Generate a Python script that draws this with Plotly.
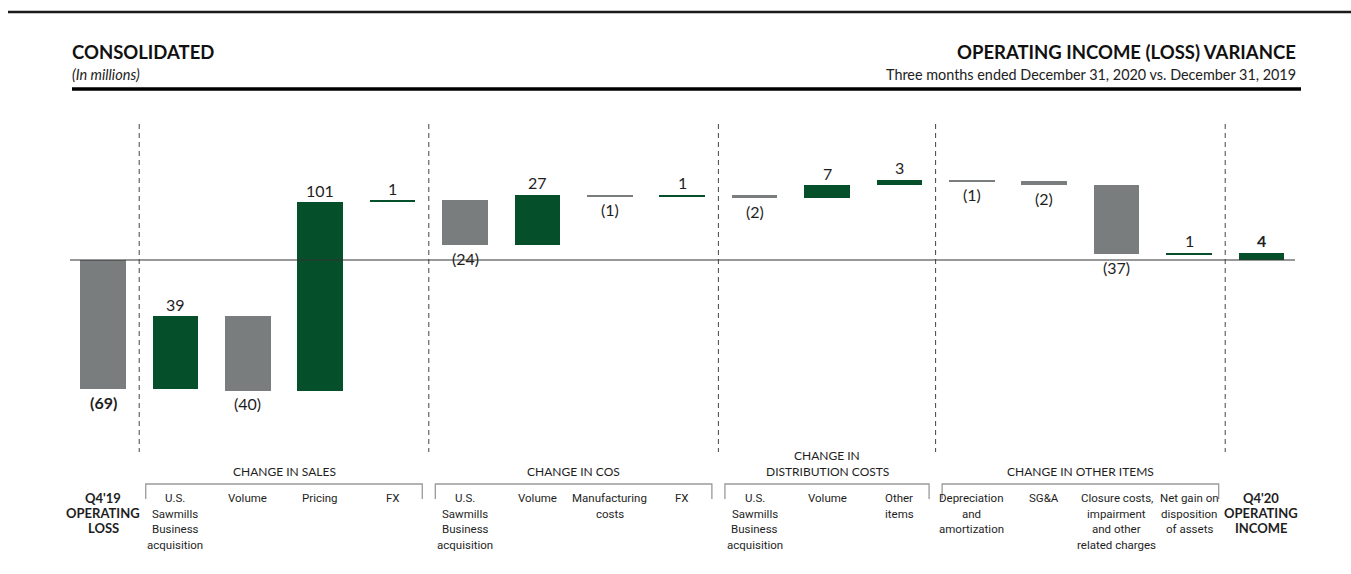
import plotly.graph_objects as go

# ---------------- data ----------------
categories = [
    "Q4'19<br>OPERATING<br>LOSS",
    "U.S.<br>Sawmills<br>Business<br>acquisition", "Volume", "Pricing", "FX",
    "U.S.<br>Sawmills<br>Business<br>acquisition", "Volume", "Manufacturing<br>costs", "FX",
    "U.S.<br>Sawmills<br>Business<br>acquisition", "Volume", "Other<br>items",
    "Depreciation<br>and<br>amortization", "SG&A",
    "Closure costs,<br>impairment<br>and other<br>related charges",
    "Net gain on<br>disposition<br>of assets",
    "Q4'20<br>OPERATING<br>INCOME",
]
values = [-69, 39, -40, 101, 1, -24, 27, -1, 1, -2, 7, 3, -1, -2, -37, 1, 4]
measures = ["total"] + ["relative"] * 15 + ["total"]
value_labels = ["(69)", "39", "(40)", "101", "1", "(24)", "27", "(1)", "1",
                "(2)", "7", "3", "(1)", "(2)", "(37)", "1", "4"]
group_names = ["CHANGE IN SALES", "CHANGE IN COS",
               "CHANGE IN<br>DISTRIBUTION COSTS", "CHANGE IN OTHER ITEMS"]
group_first = [1, 5, 9, 12]
group_last = [4, 8, 11, 15]

GREEN = "#05502a"
GRAY = "#7a7d7d"
TXT = "#1e1e1e"
W, H = 1351, 574
HEAD_FONT = "Lato, 'Noto Sans', sans-serif"
NARROW = "Roboto, 'Liberation Sans', sans-serif"

# ---------------- waterfall geometry from data ----------------
bases, heights, tops, bottoms, colors = [], [], [], [], []
cum = 0
for v, m in zip(values, measures):
    if m == "total":
        start, end = 0, v
        cum = v
    else:
        start, end = cum, cum + v
        cum = end
    bases.append(min(start, end))
    heights.append(abs(end - start))
    tops.append(max(start, end))
    bottoms.append(min(start, end))
    colors.append(GREEN if v > 0 else GRAY)

x = list(range(len(values)))

fig = go.Figure()
fig.add_trace(go.Bar(
    x=x, y=heights, base=bases, width=0.63,
    marker=dict(color=colors, line=dict(width=0)),
    hoverinfo="skip", showlegend=False,
))

# pixel helpers
X0, DX = 103.0, 72.4          # px of bar 0, px per category
PPU = 1.871                  # px per million
ZERO_PX = 260.0


def py(p):
    return 1 - p / H


annotations = []
# value labels
for i, (v, lab) in enumerate(zip(values, value_labels)):
    bold = measures[i] == "total"
    txt = f"<b>{lab}</b>" if bold else lab
    if v > 0:
        annotations.append(dict(x=i, y=tops[i], xref="x", yref="y", text=txt,
                                showarrow=False, yanchor="middle", yshift=12,
                                font=dict(family=HEAD_FONT, size=16, color=TXT)))
    else:
        annotations.append(dict(x=i, y=bottoms[i], xref="x", yref="y", text=txt,
                                showarrow=False, yanchor="middle", yshift=-13,
                                font=dict(family=HEAD_FONT, size=16, color=TXT)))

# category labels (line by line)
for i, cat in enumerate(categories):
    lines = cat.split("<br>")
    bold = measures[i] == "total"
    for k, ln in enumerate(lines):
        if bold:
            annotations.append(dict(x=i, y=py(498 + 15 * k), xref="x", yref="paper",
                                    text=f"<b>{ln}</b>", showarrow=False,
                                    yanchor="middle",
                                    font=dict(family=HEAD_FONT, size=13, color=TXT)))
        else:
            annotations.append(dict(x=i, y=py(498 + 15.7 * k), xref="x", yref="paper",
                                    text=ln, showarrow=False, yanchor="middle",
                                    font=dict(family=NARROW, size=11.5, color=TXT)))

# group headers
for name, a, b in zip(group_names, group_first, group_last):
    lines = name.split("<br>")
    n = len(lines)
    for k, ln in enumerate(lines):
        annotations.append(dict(x=(a + b) / 2, y=py(471 - 15.5 * (n - 1 - k)),
                                xref="x", yref="paper", text=ln, showarrow=False,
                                yanchor="middle",
                                font=dict(family=HEAD_FONT, size=12, color=TXT)))

# header texts
annotations += [
    dict(x=70 / W, y=py(52), xref="paper", yref="paper", xanchor="left", yanchor="middle",
         text="<b>CONSOLIDATED</b>", showarrow=False,
         font=dict(family=HEAD_FONT, size=18.5, color="#111")),
    dict(x=70 / W, y=py(74), xref="paper", yref="paper", xanchor="left", yanchor="middle",
         text="<i>(In millions)</i>", showarrow=False,
         font=dict(family=HEAD_FONT, size=14.5, color="#222")),
    dict(x=1298 / W, y=py(52), xref="paper", yref="paper", xanchor="right", yanchor="middle",
         text="<b>OPERATING INCOME (LOSS) VARIANCE</b>", showarrow=False,
         font=dict(family=HEAD_FONT, size=18.5, color="#111")),
    dict(x=1298 / W, y=py(74), xref="paper", yref="paper", xanchor="right", yanchor="middle",
         text="Three months ended December 31, 2020 vs. December 31, 2019", showarrow=False,
         font=dict(family=HEAD_FONT, size=14.4, color="#222")),
]

shapes = []
# top rules
shapes.append(dict(type="line", xref="paper", yref="paper", x0=8 / W, x1=1, y0=py(12), y1=py(12),
                   line=dict(color="#1a1a1a", width=2.5)))
shapes.append(dict(type="line", xref="paper", yref="paper", x0=72 / W, x1=1301 / W,
                   y0=py(89), y1=py(89), line=dict(color="#000", width=3.5)))
# zero line
shapes.append(dict(type="line", xref="x", yref="y", x0=(70 - X0) / DX, x1=(1295 - X0) / DX,
                   y0=0, y1=0, line=dict(color="#333", width=1.2), layer="above"))
# dashed separators
for a in group_first + [len(values) - 1]:
    xs = a - 0.5
    shapes.append(dict(type="line", xref="x", yref="paper", x0=xs, x1=xs,
                       y0=py(124), y1=py(452),
                       line=dict(color="#444", width=1, dash="5px,4px")))
# brackets
for a, b in zip(group_first, group_last):
    xl, xr = a - 0.41, b + 0.41
    shapes.append(dict(type="path", xref="x", yref="paper",
                       path=f"M {xl},{py(499)} L {xl},{py(484)} L {xr},{py(484)} L {xr},{py(499)}",
                       line=dict(color="#9a9a9a", width=1.3)))

fig.update_layout(
    width=W, height=H,
    margin=dict(l=0, r=0, t=0, b=0),
    paper_bgcolor="white", plot_bgcolor="white",
    xaxis=dict(range=[-X0 / DX, (W - X0) / DX], visible=False, fixedrange=True),
    yaxis=dict(range=[-(H - ZERO_PX) / PPU, ZERO_PX / PPU], visible=False, fixedrange=True),
    annotations=annotations, shapes=shapes,
    bargap=0, showlegend=False,
)

fig.write_html("out.html", config={"displayModeBar": False})
